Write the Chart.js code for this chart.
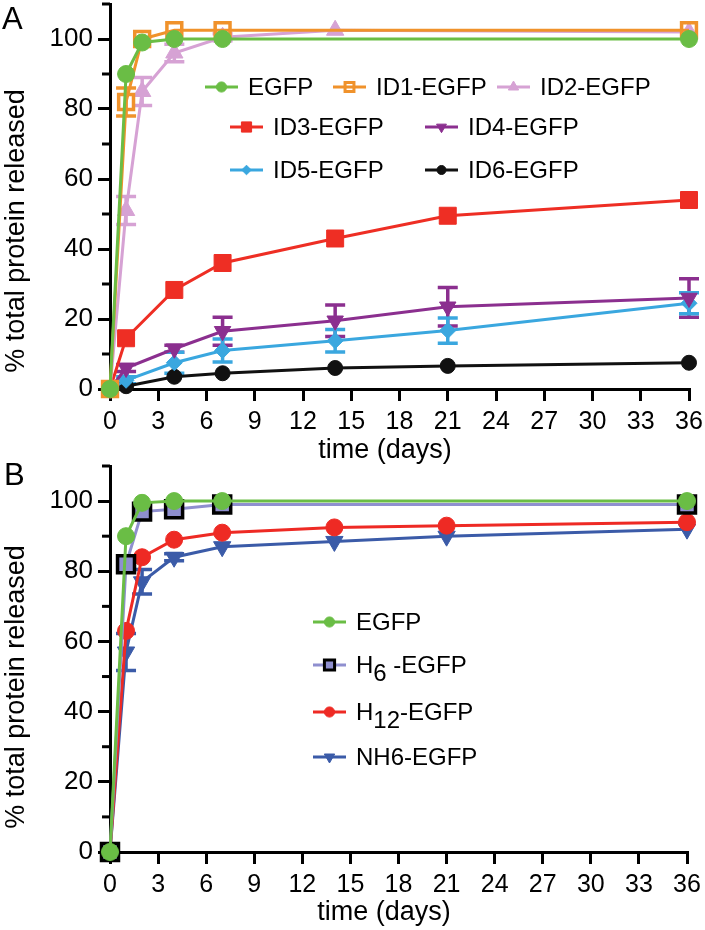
<!DOCTYPE html>
<html>
<head>
<meta charset="utf-8">
<script src="https://cdn.jsdelivr.net/npm/chart.js@4.4.0/dist/chart.umd.min.js"></script>
<style>
  html, body { margin: 0; padding: 0; background: #fff; overflow: hidden; }
  #wrap { position: relative; width: 705px; height: 930px; overflow: hidden; }
  #boxA { position: absolute; left: 0; top: 0; width: 705px; height: 470px; }
  #boxB { position: absolute; left: 0; top: 455px; width: 705px; height: 478px; }
</style>
</head>
<body>
<div id="wrap">
  <div id="boxA"><canvas id="chartA" width="705" height="470"></canvas></div>
  <div id="boxB"><canvas id="chartB" width="705" height="478"></canvas></div>
</div>
<script>
// ticks
const xTicks = [0, 3, 6, 9, 12, 15, 18, 21, 24, 27, 30, 33, 36];
const yTicks = [0, 20, 40, 60, 80, 100];
const yMinorTicks = [10, 30, 50, 70, 90, 110];

// panel A
const daysShortA = [0, 1, 2, 4, 7, 36];
const daysID2 = [0, 1, 2, 4, 7, 14, 36];
const daysLongA = [0, 1, 4, 7, 14, 21, 36];
const egfpA = [0, 90, 99, 100, 100, 100];
const id1 = [0, 82, 100, 102.5, 102.5, 102.5];
const id1Err = [0, 4, 0, 0, 0, 0];
const id2 = [0, 51, 85, 96, 100.5, 102.5, 102];
const id2Err = [0, 4, 4, 2.5, 1, 0, 0];
const id3 = [0, 14.5, 28.3, 36, 43, 49.5, 54];
const id4 = [0, 6, 11.5, 16.5, 19.5, 23.5, 26];
const id4Err = [0, 1, 1, 4, 4.5, 5.5, 5.5];
const id5 = [0, 2.5, 7.5, 11, 13.8, 16.7, 24.5];
const id5Err = [0, 1, 3, 3.3, 3.2, 3.6, 3];
const id6 = [0, 0.8, 3.5, 4.5, 6, 6.6, 7.5];

// panel B
const daysShortB = [0, 1, 2, 4, 7, 36];
const daysB = [0, 1, 2, 4, 7, 14, 21, 36];
const egfpB = [0, 90, 99.5, 100, 100, 100];
const h6 = [0, 82, 97, 97.7, 99, 99];
const h12 = [0, 63, 84, 89, 91, 92.5, 93, 94];
const nh6 = [0, 57, 77, 84, 87, 88.5, 90, 92];
const nh6Err = [0, 5.3, 3.5, 1, 0, 0, 0, 0];

const FONT = "'Liberation Sans', Arial, sans-serif";

const pts = (xs, ys) => xs.map((x, i) => ({ x: x, y: ys[i] }));

function series(label, xs, ys, color, style, extra) {
  return Object.assign({
    label: label,
    data: pts(xs, ys),
    borderColor: color,
    backgroundColor: color,
    pointBackgroundColor: color,
    pointBorderColor: color,
    pointStyle: style,
    pointRadius: 8,
    pointHoverRadius: 8,
    pointBorderWidth: 1,
    borderWidth: 3,
    tension: 0,
    clip: false
  }, extra || {});
}

// error bars from the errors arrays
const errorBars = {
  id: 'errorBars',
  beforeDatasetsDraw(chart) {
    const { ctx, scales: { x, y } } = chart;
    chart.data.datasets.forEach(ds => {
      if (!ds.errors) return;
      ctx.save();
      ctx.strokeStyle = ds.borderColor;
      ctx.lineWidth = 3.5;
      ds.data.forEach((p, i) => {
        const e = ds.errors[i];
        if (!e) return;
        const px = x.getPixelForValue(p.x);
        const y1 = y.getPixelForValue(p.y + e);
        const y2 = y.getPixelForValue(p.y - e);
        ctx.beginPath();
        ctx.moveTo(px, y1); ctx.lineTo(px, y2);
        ctx.moveTo(px - 10, y1); ctx.lineTo(px + 10, y1);
        ctx.moveTo(px - 10, y2); ctx.lineTo(px + 10, y2);
        ctx.stroke();
      });
      ctx.restore();
    });
  }
};

function drawLabel(ctx, text, x, y) {
  const sub = '₀₁₂₃₄₅₆₇₈₉';
  let cx = x;
  for (const ch of text) {
    const k = sub.indexOf(ch);
    const s = k >= 0 ? String(k) : ch;
    ctx.fillText(s, cx, k >= 0 ? y + 8 : y);
    cx += ctx.measureText(s).width;
  }
}

// minor ticks, panel letter, axis titles, legend
const decor = {
  id: 'decor',
  afterDraw(chart, args, opts) {
    const { ctx, scales: { x, y } } = chart;
    ctx.save();
    ctx.strokeStyle = '#000';
    ctx.lineWidth = 3;
    yMinorTicks.forEach(v => {
      const py = y.getPixelForValue(v);
      ctx.beginPath();
      ctx.moveTo(x.left - 8, py);
      ctx.lineTo(x.left, py);
      ctx.stroke();
    });

    ctx.fillStyle = '#000';
    ctx.textBaseline = 'alphabetic';
    ctx.textAlign = 'left';
    ctx.font = '31px ' + FONT;
    ctx.fillText(opts.letter, opts.letterPos[0], opts.letterPos[1]);

    ctx.font = '27px ' + FONT;
    ctx.textAlign = 'center';
    ctx.textBaseline = 'middle';
    ctx.fillText('time (days)', opts.xTitle[0], opts.xTitle[1]);
    ctx.save();
    ctx.translate(opts.yTitle[0], opts.yTitle[1]);
    ctx.rotate(-Math.PI / 2);
    ctx.fillText('% total protein released', 0, 0);
    ctx.restore();

    ctx.font = '24px ' + FONT;
    ctx.textAlign = 'left';
    opts.items.forEach(it => {
      const ds = chart.data.datasets[it.i];
      ctx.strokeStyle = ds.borderColor;
      ctx.lineWidth = 3;
      ctx.beginPath();
      ctx.moveTo(it.x, it.y);
      ctx.lineTo(it.x + 33, it.y);
      ctx.stroke();
      ctx.fillStyle = ds.pointBackgroundColor;
      ctx.strokeStyle = ds.pointBorderColor;
      ctx.lineWidth = Math.min(ds.pointBorderWidth, 3);
      Chart.helpers.drawPoint(ctx, {
        pointStyle: ds.pointStyle,
        rotation: ds.pointRotation || 0,
        radius: ds.pointRadius * 0.6,
        borderWidth: ds.pointBorderWidth
      }, it.x + 16.5, it.y);
      ctx.fillStyle = '#000';
      drawLabel(ctx, ds.label, it.x + 43, it.y + 1);
    });
    ctx.restore();
  }
};

function makeChart(id, datasets, canvasH, plotBottom, padTop, padRight, decorOpts) {
  const axisFont = { family: FONT, size: 25 };
  return new Chart(document.getElementById(id), {
    type: 'line',
    data: { datasets: datasets },
    options: {
      responsive: false,
      animation: false,
      layout: { autoPadding: false, padding: { top: padTop, right: padRight, left: 0, bottom: 0 } },
      scales: {
        x: {
          type: 'linear', min: 0, max: 36,
          afterBuildTicks: s => { s.ticks = xTicks.map(v => ({ value: v })); },
          afterFit: s => {
            s.height = canvasH - plotBottom;
            s.paddingLeft = 0; s.paddingRight = 0;
          },
          ticks: { color: '#000', font: axisFont, padding: 6, maxRotation: 0 },
          grid: { drawOnChartArea: false, drawTicks: true, tickLength: 12, color: '#000', lineWidth: 3 },
          border: { color: '#000', width: 3 }
        },
        y: {
          min: 0, max: 110,
          afterBuildTicks: s => { s.ticks = yTicks.map(v => ({ value: v })); },
          afterFit: s => {
            s.width = 110;
            s.paddingTop = 0; s.paddingBottom = 0;
          },
          ticks: { color: '#000', font: { family: FONT, size: 26 }, padding: 5 },
          grid: { drawOnChartArea: false, drawTicks: true, tickLength: 12, color: '#000', lineWidth: 3 },
          border: { color: '#000', width: 3 }
        }
      },
      plugins: {
        legend: { display: false },
        tooltip: { enabled: false },
        decor: decorOpts
      }
    },
    plugins: [errorBars, decor]
  });
}

const green = '#6abd45';

const dsA = [
  series('EGFP', daysShortA, egfpA, green, 'circle', { pointRadius: 8.5 }),
  series('ID1-EGFP', daysShortA, id1, '#f0922b', 'rect', {
    pointRadius: 10.5, pointBackgroundColor: 'rgba(255,255,255,0)', pointBorderWidth: 3.5, errors: id1Err }),
  series('ID2-EGFP', daysID2, id2, '#d6a2d4', 'triangle', { pointRadius: 10, errors: id2Err }),
  series('ID3-EGFP', daysLongA, id3, '#ee2e24', 'rect', { pointRadius: 12 }),
  series('ID4-EGFP', daysLongA, id4, '#8b2f8f', 'triangle', { pointRadius: 9.5, pointRotation: 180, errors: id4Err }),
  series('ID5-EGFP', daysLongA, id5, '#3aa7df', 'rectRot', { pointRadius: 8, errors: id5Err }),
  series('ID6-EGFP', daysLongA, id6, '#111111', 'circle', { pointRadius: 7.5 })
];

const dsB = [
  series('EGFP', daysShortB, egfpB, green, 'circle', { pointRadius: 8.5 }),
  series('H₆ -EGFP', daysShortB, h6, '#8f8fcf', 'rect', {
    pointRadius: 12, pointBorderColor: '#000', pointBorderWidth: 3.5 }),
  series('H₁₂-EGFP', daysB, h12, '#ee2a24', 'circle', { pointRadius: 8.5 }),
  series('NH6-EGFP', daysB, nh6, '#3b5ba8', 'triangle', { pointRadius: 10, pointRotation: 180, errors: nh6Err })
];

makeChart('chartA', dsA, 470, 389, 4, 16, {
  letter: 'A', letterPos: [2, 29],
  xTitle: [385, 451], yTitle: [17, 231],
  items: [
    { i: 0, x: 205, y: 87 }, { i: 1, x: 333, y: 87 }, { i: 2, x: 497, y: 87 },
    { i: 3, x: 230, y: 127 }, { i: 4, x: 425, y: 127 },
    { i: 5, x: 230, y: 170 }, { i: 6, x: 425, y: 170 }
  ]
});

makeChart('chartB', dsB, 478, 397, 11, 18, {
  letter: 'B', letterPos: [4, 30],
  xTitle: [384, 458], yTitle: [17, 232],
  items: [
    { i: 0, x: 313, y: 167 }, { i: 1, x: 313, y: 210 },
    { i: 2, x: 313, y: 257 }, { i: 3, x: 313, y: 302 }
  ]
});
</script>
</body>
</html>
